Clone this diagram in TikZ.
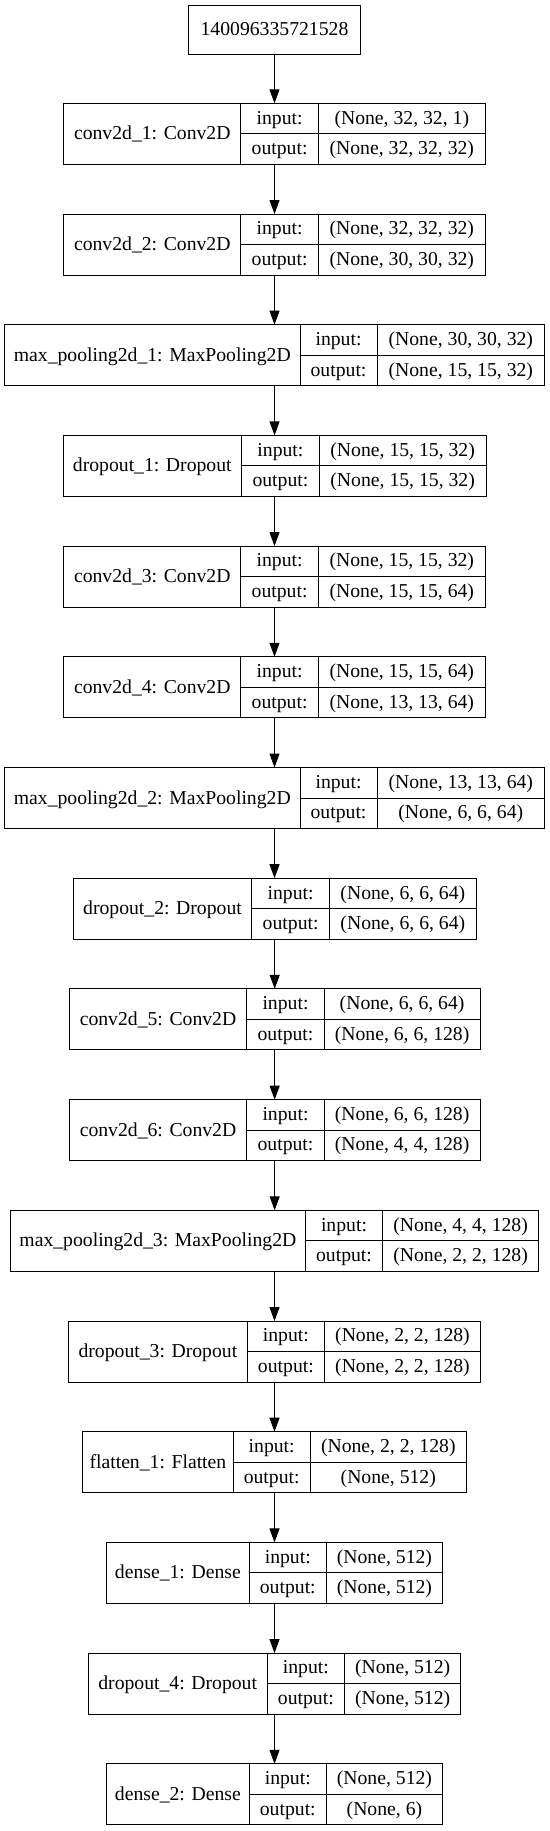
\documentclass[tikz,border=0pt]{standalone}
\usepackage{fontspec}
\setmainfont{Liberation Serif}
\usetikzlibrary{arrows.meta}
\tikzset{
  rec/.style={draw=black, line width=1pt, inner sep=0pt, outer sep=0pt, anchor=north west},
  divline/.style={draw=black, line width=1pt},
  txt/.style={font=\fontsize{19.7}{24}\selectfont, inner sep=0pt, anchor=base},
  arr/.style={draw=black, line width=1pt, -{Triangle[length=14pt,width=10pt]}},
}
% #1 index, #2 x0, #3 x1, #4 x2, #5 x3, #6 label, #7 input shape, #8 output shape
\newcommand{\layer}[8]{%
  \pgfmathsetmacro\yt{103.3+110.7*(#1-1)}%
  \pgfmathsetmacro\yb{\yt+61}%
  \pgfmathsetmacro\ym{\yt+30.5}%
  \node[rec, minimum width={(#5-#2)*1pt}, minimum height=61pt] (L#1) at (#2,\yt) {};
  \draw[divline] (#3,\yt) -- (#3,\yb) (#4,\yt) -- (#4,\yb) (#3,\ym) -- (#5,\ym);
  \node[txt] (L#1n) at ({(#2+#3)/2},{\yt+36.5}) {#6};
  \node[txt] (L#1a) at ({(#3+#4)/2},{\yt+20.8}) {input:};
  \node[txt] (L#1b) at ({(#3+#4)/2},{\yt+51.3}) {output:};
  \node[txt] (L#1c) at ({(#4+#5)/2},{\yt+20.8}) {#7};
  \node[txt] (L#1d) at ({(#4+#5)/2},{\yt+51.3}) {#8};
}
\begin{document}
\begin{tikzpicture}[x=1pt,y=-1pt]
\useasboundingbox (0,0) rectangle (549,1831);
\fill[white] (0,0) rectangle (549,1831);
\node[rec, minimum width=172.2pt, minimum height=48.3pt] (L0) at (188.4,5.7) {};
\node[txt] (L0n) at (274.5,35.2) {140096335721528};
\layer{1}{63.7}{240.9}{318.3}{485.3}{conv2d\_1: Conv2D}{(None, 32, 32, 1)}{(None, 32, 32, 32)}
\layer{2}{63.7}{240.9}{318.3}{485.3}{conv2d\_2: Conv2D}{(None, 32, 32, 32)}{(None, 30, 30, 32)}
\layer{3}{4.6}{300}{377.1}{544.5}{max\_pooling2d\_1: MaxPooling2D}{(None, 30, 30, 32)}{(None, 15, 15, 32)}
\layer{4}{63}{241.6}{319.3}{486}{dropout\_1: Dropout}{(None, 15, 15, 32)}{(None, 15, 15, 32)}
\layer{5}{63.7}{240.9}{318.3}{485.3}{conv2d\_3: Conv2D}{(None, 15, 15, 32)}{(None, 15, 15, 64)}
\layer{6}{63.7}{240.9}{318.3}{485.3}{conv2d\_4: Conv2D}{(None, 15, 15, 64)}{(None, 13, 13, 64)}
\layer{7}{4.6}{300}{377.1}{544.5}{max\_pooling2d\_2: MaxPooling2D}{(None, 13, 13, 64)}{(None, 6, 6, 64)}
\layer{8}{73.2}{251.8}{329.5}{476.2}{dropout\_2: Dropout}{(None, 6, 6, 64)}{(None, 6, 6, 64)}
\layer{9}{69.3}{246.8}{324.2}{480}{conv2d\_5: Conv2D}{(None, 6, 6, 64)}{(None, 6, 6, 128)}
\layer{10}{69.3}{246.8}{324.2}{480}{conv2d\_6: Conv2D}{(None, 6, 6, 128)}{(None, 4, 4, 128)}
\layer{11}{10.5}{305.3}{382.7}{538.5}{max\_pooling2d\_3: MaxPooling2D}{(None, 4, 4, 128)}{(None, 2, 2, 128)}
\layer{12}{68.6}{247.2}{324.6}{480.4}{dropout\_3: Dropout}{(None, 2, 2, 128)}{(None, 2, 2, 128)}
\layer{13}{82.6}{233.2}{310.2}{466.4}{flatten\_1: Flatten}{(None, 2, 2, 128)}{(None, 512)}
\layer{14}{106.4}{249.3}{326.3}{442.6}{dense\_1: Dense}{(None, 512)}{(None, 512)}
\layer{15}{88.2}{267.2}{344.5}{460.8}{dropout\_4: Dropout}{(None, 512)}{(None, 512)}
\layer{16}{106.4}{249.3}{326.3}{442.6}{dense\_2: Dense}{(None, 512)}{(None, 6)}
\foreach \i [evaluate=\i as \j using int(\i+1)] in {0,...,15} {
  \draw[arr] (L\i.south) -- (L\i.south |- L\j.north);
}
\end{tikzpicture}
\end{document}
